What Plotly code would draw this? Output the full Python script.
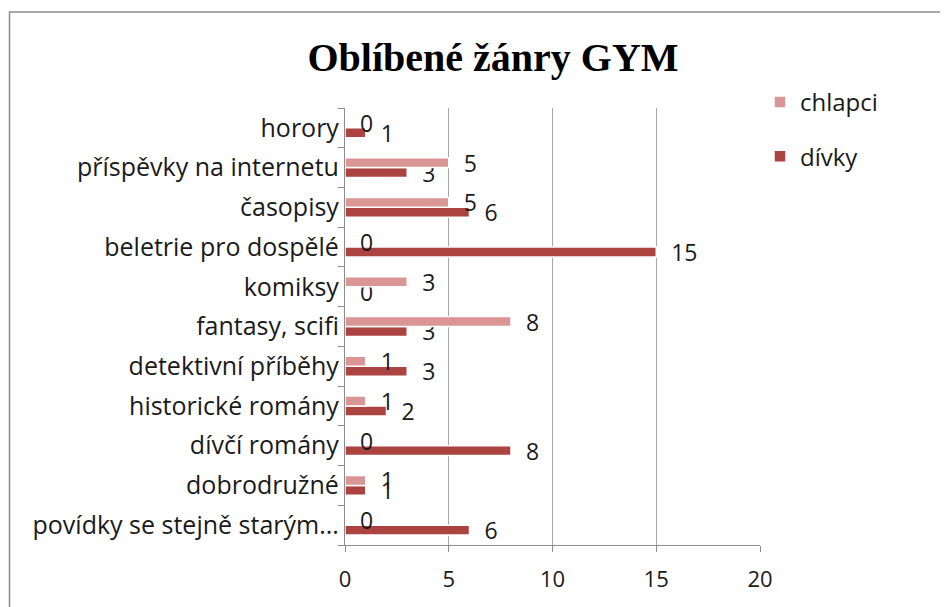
import plotly.graph_objects as go

# Oblíbené žánry GYM - horizontal grouped bars, chlapci vs dívky
categories = [
    'povídky se stejně starým...',
    'dobrodružné',
    'dívčí romány',
    'historické romány',
    'detektivní příběhy',
    'fantasy, scifi',
    'komiksy',
    'beletrie pro dospělé',
    'časopisy',
    'příspěvky na internetu',
    'horory',
]
divky = [6, 1, 8, 2, 3, 3, 0, 15, 6, 3, 1]
chlapci = [0, 1, 0, 1, 1, 8, 3, 0, 5, 5, 0]
x_ticks = [0, 5, 10, 15, 20]

font_main = 'Open Sans'
text_col = '#1a1a1a'
pad = '\u00a0\u00a0'  # push value labels a little away from the bar end

fig = go.Figure()

fig.add_trace(go.Bar(
    y=categories, x=divky, orientation='h', name='dívky',
    legendgroup='d', legendrank=2,
    marker=dict(color='#AB4341', line=dict(color='white', width=1.5)),
    texttemplate=pad + '%{x}', textposition='outside', constraintext='none',
    textfont=dict(size=23, color=text_col, family=font_main),
    cliponaxis=False,
))
fig.add_trace(go.Bar(
    y=categories, x=chlapci, orientation='h', name='chlapci',
    legendgroup='c', legendrank=1,
    marker=dict(color='#D99694', line=dict(color='white', width=1.5)),
    texttemplate=pad + '%{x}', textposition='outside', constraintext='none',
    textfont=dict(size=23, color=text_col, family=font_main),
    cliponaxis=False,
))

# outer chart frame (like the Excel chart area border)
fig.add_shape(type='rect', xref='paper', yref='paper',
              x0=(9.5 - 345) / 415, x1=(960 - 345) / 415,
              y0=(545 - 620) / 437, y1=(545 - 12) / 437,
              line=dict(color='#8c8c8c', width=1.5), layer='below')

# page body has an 8px margin, so the figure is drawn slightly smaller
fig.update_layout(
    width=940, height=599,
    barmode='group', bargap=0.5, bargroupgap=0,
    title=dict(text='<b>Oblíbené žánry GYM</b>',
               font=dict(family='Liberation Serif', size=40, color='black'),
               x=(493 - 345) / 415, xref='paper', xanchor='center',
               y=1 - 49 / 599, yanchor='middle', automargin=False),
    margin=dict(l=337, r=188, t=100, b=62),
    paper_bgcolor='white', plot_bgcolor='white',
    font=dict(family=font_main, color=text_col),
    showlegend=True,
    legend=dict(traceorder='grouped', tracegroupgap=20,
                x=1.0, y=(545 - 80) / 437, xanchor='left', yanchor='top',
                font=dict(size=24, family=font_main, color=text_col),
                itemwidth=30, bgcolor='rgba(0,0,0,0)'),
    xaxis=dict(range=[0, 20], tickvals=x_ticks, showgrid=True,
               gridcolor='#a6a6a6', gridwidth=1.2, zeroline=False,
               showline=True, linecolor='#8c8c8c', linewidth=1.2,
               ticks='outside', ticklen=6, tickcolor='#8c8c8c',
               ticklabelstandoff=8, automargin=False,
               tickfont=dict(size=22, family=font_main, color=text_col)),
    yaxis=dict(showline=True, linecolor='#8c8c8c', linewidth=1.2,
               ticks='outside', tickson='boundaries', ticklen=6,
               tickcolor='#8c8c8c', showgrid=False, automargin=False,
               tickfont=dict(size=25, family=font_main, color=text_col)),
)

fig.write_html('out.html')
